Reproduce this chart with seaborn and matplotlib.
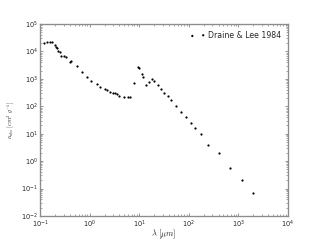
import numpy as np
import pandas as pd
import seaborn as sns
import matplotlib
matplotlib.use("Agg")
import matplotlib.pyplot as plt

# Draine & Lee 1984 absorption opacity
wavelength = [0.119, 0.138, 0.157, 0.172, 0.198, 0.213, 0.220, 0.231, 0.249, 0.269,
              0.301, 0.334, 0.397, 0.428, 0.557, 0.703, 0.887, 1.08, 1.39, 1.64,
              2.01, 2.21, 2.54, 2.96, 3.30, 3.62, 3.97, 4.94, 6.03, 6.53,
              7.96, 9.59, 10.05, 11.4, 11.9, 13.9, 16.0, 18.1, 19.9, 23.9,
              27.5, 32.1, 37.6, 44.4, 54.5, 68.7, 87.9, 109, 135, 174,
              247, 401, 687, 1194, 1995]
kappa = [20900, 21900, 22900, 21900, 16600, 14800, 12900, 10700, 9770, 6920,
         6920, 6170, 4270, 4570, 3020, 1740, 1150, 851, 631, 501,
         417, 380, 339, 302, 295, 275, 245, 214, 214, 219,
         692, 2750, 2570, 1480, 1200, 603, 794, 977, 851, 603,
         437, 316, 240, 166, 105, 61.7, 39.8, 25.1, 16.6, 9.55,
         3.89, 1.95, 0.575, 0.200, 0.0708]

df = pd.DataFrame({"wavelength": wavelength, "kappa": kappa})

sns.set_style("ticks")
plt.rcParams["mathtext.fontset"] = "cm"

fig, ax = plt.subplots(figsize=(4, 3), dpi=80)
fig.subplots_adjust(left=0.125, right=0.9, bottom=0.1, top=0.9)

sns.scatterplot(data=df, x="wavelength", y="kappa", ax=ax, color="black",
                s=4, linewidth=0, label="Draine & Lee 1984")

ax.set_xscale("log")
ax.set_yscale("log")
ax.set_xlim(1e-1, 1e4)
ax.set_ylim(1e-2, 1e5)

ax.set_xlabel(r"$\lambda\ [\mu m]$", fontsize=7.5, labelpad=-1.5)
ax.set_ylabel(r"$\kappa_{abs}\ [cm^2\ g^{-1}]$", fontsize=5.5, labelpad=3)

ax.tick_params(which="both", direction="in", top=True, right=True,
               labelsize=6, color="0.4", pad=2)
ax.tick_params(which="major", length=3, width=0.6)
ax.tick_params(which="minor", length=1.5, width=0.5)
for sp in ax.spines.values():
    sp.set_color("0.55")
    sp.set_linewidth(1.2)

ax.legend(loc="upper right", frameon=False, scatterpoints=2, fontsize=7,
          handletextpad=0.3)

fig.savefig("out.png", dpi=80)
